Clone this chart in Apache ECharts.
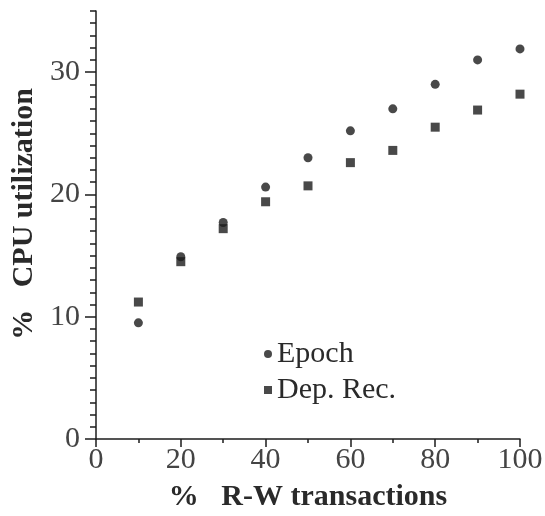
<!DOCTYPE html>
<html>
<head>
<meta charset="utf-8">
<script src="https://cdn.jsdelivr.net/npm/echarts@6/dist/echarts.min.js"></script>
<style>html,body{margin:0;padding:0;background:#fff}#c{width:545px;height:516px}</style>
</head>
<body>
<div id="c"></div>
<script>
var xValues = [10, 20, 30, 40, 50, 60, 70, 80, 90, 100];
var epoch = [9.5, 14.9, 17.7, 20.6, 23.0, 25.2, 27.0, 29.0, 31.0, 31.9];
var depRec = [11.2, 14.5, 17.2, 19.4, 20.7, 22.6, 23.6, 25.5, 26.9, 28.2];
var yTicks = [0, 10, 20, 30];
var xTicks = [0, 20, 40, 60, 80, 100];

function pairs(ys) { return xValues.map(function (x, i) { return [x, ys[i]]; }); }

var ink = '#1c1c1c';
var serif = '"Liberation Serif", "DejaVu Serif", serif';

var chart = echarts.init(document.getElementById('c'), null, { renderer: 'canvas' });
chart.setOption({
  backgroundColor: '#fff',
  animation: false,
  grid: { left: 96, right: 25, top: 11, bottom: 77, containLabel: false, outerBoundsMode: 'none' },
  legend: {
    orient: 'vertical',
    left: 259,
    top: 334,
    itemWidth: 8,
    itemHeight: 8,
    itemGap: 6,
    textStyle: { fontFamily: serif, fontSize: 30, color: '#2a2a2a', lineHeight: 30 },
    data: [
      { name: 'Epoch', icon: 'circle' },
      { name: 'Dep. Rec.', icon: 'rect' }
    ]
  },
  xAxis: [{
    type: 'value',
    min: 0, max: 100, interval: 20,
    name: '%   R-W transactions',
    nameLocation: 'middle',
    nameGap: 43,
    nameTextStyle: { fontFamily: serif, fontSize: 30, fontWeight: 'bold', color: '#2a2a2a' },
    axisLine: { show: true, lineStyle: { color: ink, width: 1.5 } },
    axisTick: { show: true, length: 8, lineStyle: { color: ink, width: 1.5 }, customValues: xTicks },
    minorTick: { show: true, splitNumber: 2, length: 4, lineStyle: { color: ink, width: 1.5 } },
    axisLabel: { fontFamily: serif, fontSize: 30, color: '#444', margin: 6, customValues: xTicks },
    splitLine: { show: false }
  }],
  yAxis: [{
    type: 'value',
    min: 0, max: 35, interval: 1,
    name: '%   CPU utilization',
    nameLocation: 'middle',
    nameRotate: 90,
    nameGap: 57,
    nameTextStyle: { fontFamily: serif, fontSize: 30, fontWeight: 'bold', color: '#2a2a2a', padding: [0, 0, 0, 22] },
    axisLine: { show: true, lineStyle: { color: ink, width: 1.5 } },
    axisTick: { show: true, length: 6, lineStyle: { color: ink, width: 1.5 } },
    axisLabel: { show: false },
    splitLine: { show: false }
  }, {
    type: 'value',
    position: 'left',
    min: 0, max: 35, interval: 10,
    axisLine: { show: false },
    axisTick: { show: true, length: 11, lineStyle: { color: ink, width: 1.5 }, customValues: yTicks },
    axisLabel: { fontFamily: serif, fontSize: 30, color: '#444', margin: 16, customValues: yTicks },
    splitLine: { show: false }
  }],
  series: [{
    name: 'Epoch',
    type: 'scatter',
    symbol: 'circle',
    symbolSize: 9,
    itemStyle: { color: ink },
    data: pairs(epoch)
  }, {
    name: 'Dep. Rec.',
    type: 'scatter',
    symbol: 'rect',
    symbolSize: 9,
    itemStyle: { color: ink },
    data: pairs(depRec)
  }]
});
</script>
</body>
</html>
